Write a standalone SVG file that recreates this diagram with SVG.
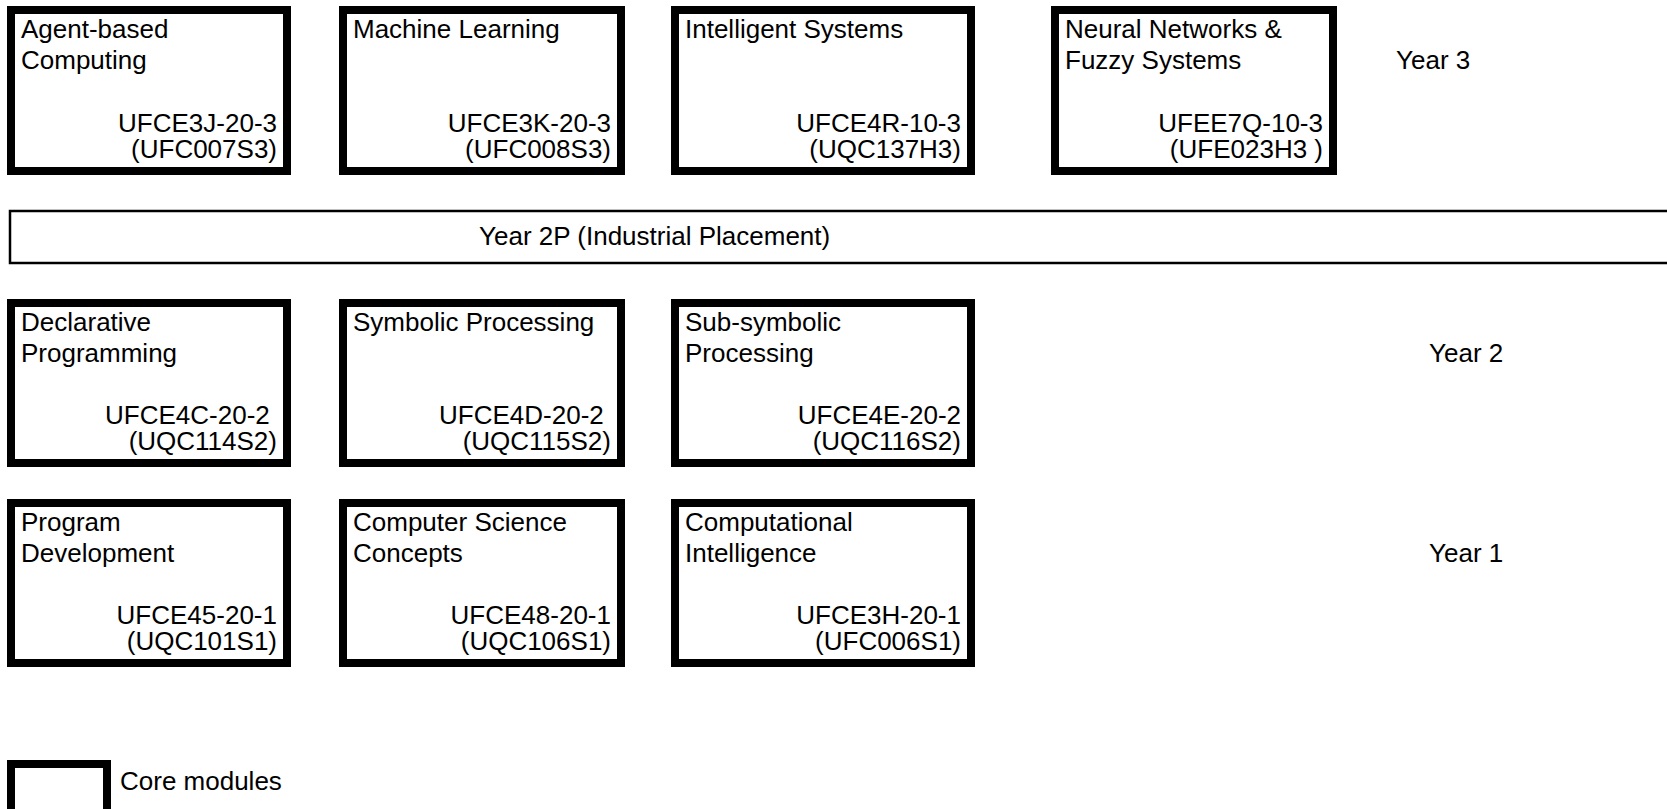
<svg xmlns="http://www.w3.org/2000/svg" width="1667" height="809" viewBox="0 0 1667 809">
<style>
  text { font-family: "Liberation Sans", Arial, sans-serif; font-size: 26px; fill: #000; }
  .box { fill: #fff; stroke: #000; stroke-width: 8; }
  .bar { fill: #fff; stroke: #000; stroke-width: 2.5; }
  .code { text-anchor: end; }
</style>
<rect width="1667" height="809" fill="#fff"/>

<g id="connectors"></g>

<g id="year2p">
  <rect class="bar" x="10" y="211" width="1700" height="52"/>
  <text x="479" y="245">Year 2P (Industrial Placement)</text>
</g>

<!-- Year 3 -->
<g id="agent-based">
  <rect class="box" x="11" y="10" width="276" height="161"/>
  <text x="21" y="38">Agent-based</text>
  <text x="21" y="69">Computing</text>
  <text class="code" x="277" y="132">UFCE3J-20-3</text>
  <text class="code" x="277" y="158">(UFC007S3)</text>
</g>
<g id="machine-learning">
  <rect class="box" x="343" y="10" width="278" height="161"/>
  <text x="353" y="38">Machine Learning</text>
  <text class="code" x="611" y="132">UFCE3K-20-3</text>
  <text class="code" x="611" y="158">(UFC008S3)</text>
</g>
<g id="intelligent-systems">
  <rect class="box" x="675" y="10" width="296" height="161"/>
  <text x="685" y="38">Intelligent Systems</text>
  <text class="code" x="961" y="132">UFCE4R-10-3</text>
  <text class="code" x="961" y="158">(UQC137H3)</text>
</g>
<g id="neural-networks">
  <rect class="box" x="1055" y="10" width="278" height="161"/>
  <text x="1065" y="38">Neural Networks &amp;</text>
  <text x="1065" y="69">Fuzzy Systems</text>
  <text class="code" x="1323" y="132">UFEE7Q-10-3</text>
  <text class="code" x="1323" y="158" xml:space="preserve">(UFE023H3 )</text>
</g>
<g id="year3-label"><text x="1396" y="69">Year 3</text></g>

<!-- Year 2 -->
<g id="declarative-programming">
  <rect class="box" x="11" y="303" width="276" height="160"/>
  <text x="21" y="331">Declarative</text>
  <text x="21" y="362">Programming</text>
  <text class="code" x="277" y="424" xml:space="preserve">UFCE4C-20-2 </text>
  <text class="code" x="277" y="450">(UQC114S2)</text>
</g>
<g id="symbolic-processing">
  <rect class="box" x="343" y="303" width="278" height="160"/>
  <text x="353" y="331">Symbolic Processing</text>
  <text class="code" x="611" y="424" xml:space="preserve">UFCE4D-20-2 </text>
  <text class="code" x="611" y="450">(UQC115S2)</text>
</g>
<g id="sub-symbolic-processing">
  <rect class="box" x="675" y="303" width="296" height="160"/>
  <text x="685" y="331">Sub-symbolic</text>
  <text x="685" y="362">Processing</text>
  <text class="code" x="961" y="424">UFCE4E-20-2</text>
  <text class="code" x="961" y="450">(UQC116S2)</text>
</g>
<g id="year2-label"><text x="1429" y="362">Year 2</text></g>

<!-- Year 1 -->
<g id="program-development">
  <rect class="box" x="11" y="503" width="276" height="160"/>
  <text x="21" y="531">Program</text>
  <text x="21" y="562">Development</text>
  <text class="code" x="277" y="624">UFCE45-20-1</text>
  <text class="code" x="277" y="650">(UQC101S1)</text>
</g>
<g id="computer-science-concepts">
  <rect class="box" x="343" y="503" width="278" height="160"/>
  <text x="353" y="531">Computer Science</text>
  <text x="353" y="562">Concepts</text>
  <text class="code" x="611" y="624">UFCE48-20-1</text>
  <text class="code" x="611" y="650">(UQC106S1)</text>
</g>
<g id="computational-intelligence">
  <rect class="box" x="675" y="503" width="296" height="160"/>
  <text x="685" y="531">Computational</text>
  <text x="685" y="562">Intelligence</text>
  <text class="code" x="961" y="624">UFCE3H-20-1</text>
  <text class="code" x="961" y="650">(UFC006S1)</text>
</g>
<g id="year1-label"><text x="1429" y="562">Year 1</text></g>

<!-- Legend -->
<g id="legend">
  <rect class="box" x="11" y="764" width="96" height="60"/>
  <text x="120" y="790">Core modules</text>
</g>
</svg>
